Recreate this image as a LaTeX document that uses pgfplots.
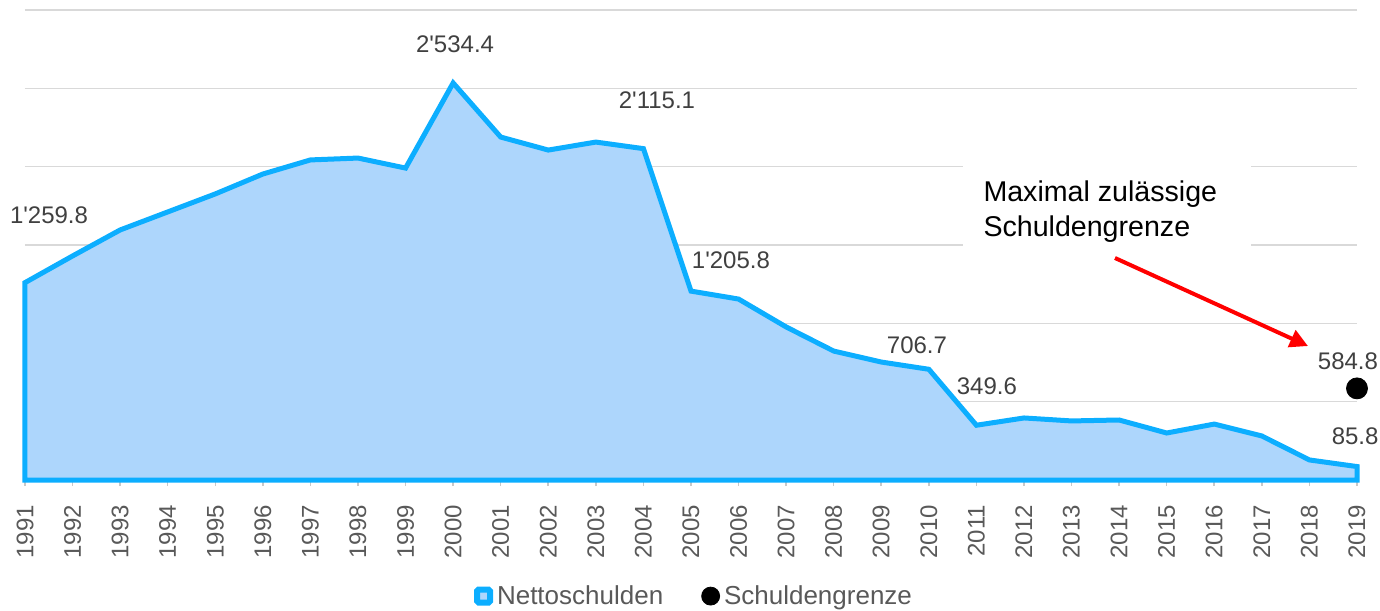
\documentclass[border=0pt]{standalone}
\usepackage{pgfplots}
\pgfplotsset{compat=1.18}
\usepackage{fontspec}
\setmainfont{Liberation Sans}
\usetikzlibrary{arrows.meta}
\definecolor{lineblue}{RGB}{12,174,255}
\definecolor{areafill}{RGB}{173,214,252}
\definecolor{gridgray}{RGB}{217,217,217}
\definecolor{labelgray}{RGB}{64,64,64}
\definecolor{tickgray}{RGB}{89,89,89}
\begin{document}
\begin{tikzpicture}
\begin{axis}[
  scale only axis, width=666pt, height=235pt,
  xmin=1991, xmax=2019, ymin=0, ymax=3000,
  axis x line*=bottom, axis y line*=left,
  y axis line style={draw=none},
  x axis line style={draw={rgb,255:red,200;green,200;blue,200}, line width=0.75pt},
  xtick={1991,...,2019},
  tick align=outside,
  major tick length=3pt,
  xtick style={draw={rgb,255:red,200;green,200;blue,200}, line width=0.75pt},
  ytick={0,500,...,3000}, yticklabels={}, ytick style={draw=none},
  ymajorgrids, grid style={gridgray, line width=0.75pt},
  xticklabel style={yshift=-6pt, rotate=90, anchor=east, font=\fontsize{12}{12}\selectfont, text=tickgray},
  /pgf/number format/.cd, 1000 sep={}, assume math mode=true, /pgfplots/.cd,
  clip=false,
  legend style={at={(0.503,-0.247)}, anchor=center, draw=none, fill=none,
    font=\fontsize{13}{15}\selectfont, text=tickgray,
    /tikz/every even column/.append style={column sep=17pt}},
  legend columns=2,
  legend cell align=left,
]
\addplot[draw=lineblue, fill=areafill, line width=2.5pt,
  legend image code/.code={\draw[fill=areafill,draw=lineblue,line width=3pt,rounded corners=0.8pt] (0pt,-3.25pt) rectangle (6.5pt,3.25pt);}]
coordinates {
(1991,1259.8) (1992,1430) (1993,1596) (1994,1711) (1995,1826) (1996,1953)
(1997,2043) (1998,2055) (1999,1991) (2000,2534.4) (2001,2189) (2002,2106)
(2003,2157) (2004,2115.1) (2005,1205.8) (2006,1155) (2007,977) (2008,823)
(2009,753) (2010,706.7) (2011,349.6) (2012,396) (2013,377) (2014,383)
(2015,300) (2016,357) (2017,281) (2018,128) (2019,85.8)
} \closedcycle;
\addlegendentry{Nettoschulden}
\addplot[only marks, mark=*, mark size=5.25pt, black,
  legend image code/.code={\fill[black] (4.5pt,0pt) circle (4.5pt);}]
coordinates {(2019,584.8)};
\addlegendentry{Schuldengrenze}

\fill[white] (axis cs:2010.72,1468) rectangle (axis cs:2016.77,2042);
\node[anchor=west, align=left, font=\fontsize{14.3}{17.5}\selectfont, text=black, inner sep=0pt]
  at (axis cs:2011.14,1710) {Maximal zulässige\\Schuldengrenze};
\draw[red, line width=2pt, -{Triangle[length=9pt,width=9pt]}]
  (axis cs:2013.913,1417) -- (axis cs:2017.97,855);

\begin{scope}[every node/.style={font=\fontsize{12}{14}\selectfont, text=labelgray}]
\node at (axis cs:1991.505,1691.5) {1\textquotesingle 259.8};
\node at (axis cs:2000.04,2783) {2\textquotesingle 534.4};
\node at (axis cs:2004.285,2425) {2\textquotesingle 115.1};
\node at (axis cs:2005.84,1404) {1\textquotesingle 205.8};
\node at (axis cs:2009.75,862) {706.7};
\node at (axis cs:2011.22,600) {349.6};
\node at (axis cs:2018.81,760) {584.8};
\node at (axis cs:2018.96,281) {85.8};
\end{scope}

\coordinate (bbsw) at (axis cs:1990.4745,-829.8);
\coordinate (bbne) at (axis cs:2019.4836,3063.83);
\end{axis}
\pgfresetboundingbox
\path[use as bounding box] (bbsw) rectangle (bbne);
\end{tikzpicture}
\end{document}
